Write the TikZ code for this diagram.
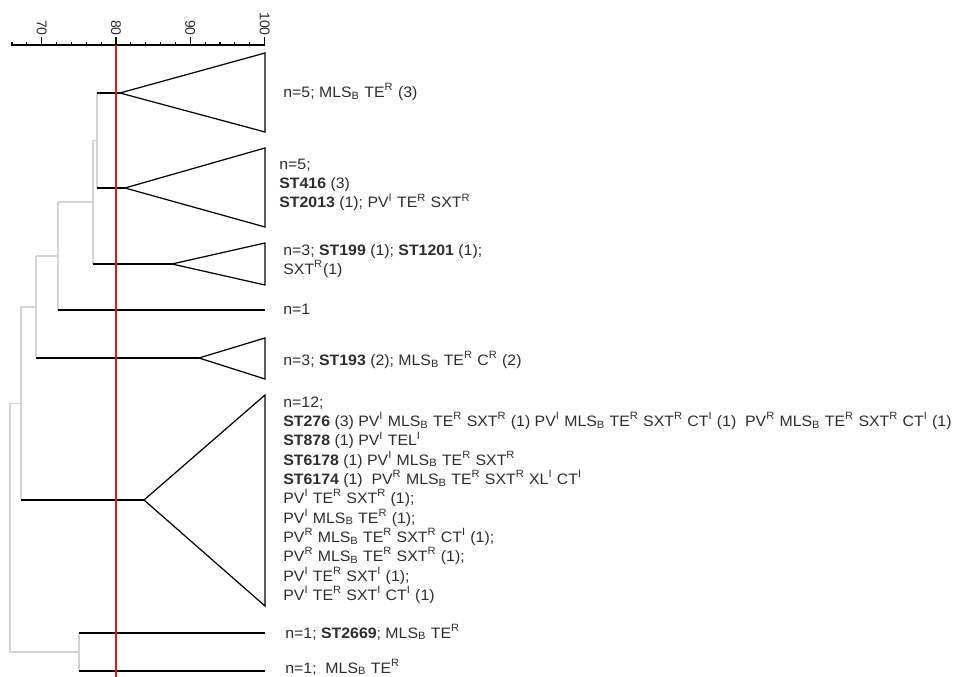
\documentclass[tikz,border=0pt]{standalone}
\usepackage{fontspec}
\setmainfont[FakeStretch=1.05]{Liberation Sans}
\newfontfamily\tickfont{Liberation Sans}
\usetikzlibrary{positioning,calc}
\definecolor{linkgray}{RGB}{212,212,212}
\definecolor{cutred}{RGB}{235,20,20}
\definecolor{labtext}{RGB}{45,45,45}
\newcommand{\supx}[1]{\textsuperscript{#1}}
\newcommand{\subx}[1]{\textsubscript{#1}}

\begin{document}
\begin{tikzpicture}[x=0.2mm,y=-0.2mm,
  clade/.style={draw=black,line width=0.7pt,line join=miter},
  twig/.style={draw=black,line width=0.7pt},
  link/.style={draw=linkgray,line width=0.7pt},
  lbl/.style={anchor=west,inner sep=0pt,align=left,text=labtext,font=\fontsize{8.6}{11}\selectfont}]
\useasboundingbox (0,0) rectangle (957,677);
% scale bar
\draw[line width=0.9pt] (11,45)--(265,45);
\foreach \v in {66,68,...,100}{\draw[line width=0.6pt] ({116+7.43*(\v-80)},45)--++(0,-3);}
\foreach \v in {70,80,90,100}{\draw[line width=0.8pt] ({116+7.43*(\v-80)},45)--++(0,-8);\node[lbl,rotate=-90,anchor=east,font=\tickfont\fontsize{8}{10}\selectfont] (tick\v) at ({116+7.43*(\v-80)},36) {\v};}
% collapsed clades and leaves
\coordinate (t1) at (120,93);
\coordinate (t2) at (125,188);
\coordinate (t3) at (172,264);
\coordinate (l4) at (265,310);
\coordinate (t5) at (199,358);
\coordinate (t6) at (144,500);
\coordinate (l7) at (265,633);
\coordinate (l8) at (265,671);
\foreach \a/\top/\bot in {t1/53/132,t2/148/227,t3/243/285,t5/338/379,t6/395/606}{\draw[clade] (\a)--(265,\top)--(265,\bot)--cycle;}
% inner nodes
\coordinate (nA) at (97,140.5);
\coordinate (nB) at (93,202);
\coordinate (nC) at (58,256);
\coordinate (nD) at (36,307);
\coordinate (nE) at (21,403.5);
\coordinate (nG) at (79,652);
\coordinate (nF) at (10,528);
\draw[link] (t1-|nA)--(t2-|nA) (nA)--(nA-|nB);
\draw[link] (nA-|nB)--(t3-|nB) (nB)--(nB-|nC);
\draw[link] (nB-|nC)--(l4-|nC) (nC)--(nC-|nD);
\draw[link] (nC-|nD)--(t5-|nD) (nD)--(nD-|nE);
\draw[link] (nD-|nE)--(t6-|nE) (nE)--(nE-|nF);
\draw[link] (nE-|nF)--(nG-|nF)--(nG);
\draw[link] (l7-|nG)--(l8-|nG);
\draw[twig] (t1-|nA)--(t1) (t2-|nA)--(t2) (t3-|nB)--(t3) (l4-|nC)--(l4);
\draw[twig] (t5-|nD)--(t5) (t6-|nE)--(t6) (l7-|nG)--(l7) (l8-|nG)--(l8);
% cut-off at 80
\coordinate (cut) at (116,45);
\draw[cutred,line width=0.8pt] (cut)--(116,677);
% labels
\node[lbl] (lab1) at (283,92) {n=5; MLS\subx{B} TE\supx{R} (3)};
\node[lbl] (lab2) at (279,185) {n=5;\\\textbf{ST416} (3)\\\textbf{ST2013} (1); PV\supx{I} TE\supx{R} SXT\supx{R}};
\node[lbl] (lab3) at (283,261) {n=3; \textbf{ST199} (1); \textbf{ST1201} (1);\\SXT\supx{R}(1)};
\node[lbl] (lab4) at (283,309) {n=1};
\node[lbl] (lab5) at (283,360) {n=3; \textbf{ST193} (2); MLS\subx{B} TE\supx{R} C\supx{R} (2)};
\node[lbl] (lab6) at (283,500) {n=12;\\
\textbf{ST276} (3) PV\supx{I} MLS\subx{B} TE\supx{R} SXT\supx{R} (1) PV\supx{I} MLS\subx{B} TE\supx{R} SXT\supx{R} CT\supx{I} (1)\ \ PV\supx{R} MLS\subx{B} TE\supx{R} SXT\supx{R} CT\supx{I} (1)\\
\textbf{ST878} (1) PV\supx{I} TEL\supx{I}\\
\textbf{ST6178} (1) PV\supx{I} MLS\subx{B} TE\supx{R} SXT\supx{R}\\
\textbf{ST6174} (1)\ \ PV\supx{R} MLS\subx{B} TE\supx{R} SXT\supx{R} XL\supx{I} CT\supx{I}\\
PV\supx{I} TE\supx{R} SXT\supx{R} (1);\\
PV\supx{I} MLS\subx{B} TE\supx{R} (1);\\
PV\supx{R} MLS\subx{B} TE\supx{R} SXT\supx{R} CT\supx{I} (1);\\
PV\supx{R} MLS\subx{B} TE\supx{R} SXT\supx{R} (1);\\
PV\supx{I} TE\supx{R} SXT\supx{I} (1);\\
PV\supx{I} TE\supx{R} SXT\supx{I} CT\supx{I} (1)};
\node[lbl] (lab7) at (285,632) {n=1; \textbf{ST2669}; MLS\subx{B} TE\supx{R}};
\node[lbl] (lab8) at (285,667) {n=1;\ \ MLS\subx{B} TE\supx{R}};
\end{tikzpicture}
\end{document}
